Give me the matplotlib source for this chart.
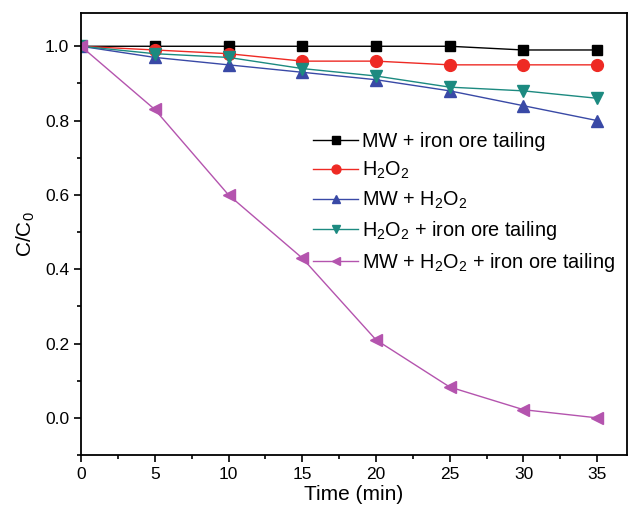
import matplotlib
matplotlib.use('Agg')
import matplotlib.pyplot as plt
from matplotlib.ticker import MultipleLocator

plt.rcParams['font.family'] = ['Liberation Sans', 'DejaVu Sans']
plt.rcParams['mathtext.default'] = 'regular'

# 데이터
time = [0, 5, 10, 15, 20, 25, 30, 35]
mw_tailing = [1.0, 1.0, 1.0, 1.0, 1.0, 1.0, 0.99, 0.99]
h2o2 = [1.0, 0.99, 0.98, 0.96, 0.96, 0.95, 0.95, 0.95]
mw_h2o2 = [1.0, 0.97, 0.95, 0.93, 0.91, 0.88, 0.84, 0.80]
h2o2_tailing = [1.0, 0.98, 0.97, 0.94, 0.92, 0.89, 0.88, 0.86]
mw_h2o2_tailing = [1.0, 0.83, 0.60, 0.43, 0.21, 0.083, 0.022, 0.0]

labels = ['MW + iron ore tailing', 'H$_2$O$_2$', 'MW + H$_2$O$_2$',
          'H$_2$O$_2$ + iron ore tailing', 'MW + H$_2$O$_2$ + iron ore tailing']

fig = plt.figure(figsize=(6.28, 5.13), dpi=100)
ax = fig.add_axes([0.129, 0.113, 0.869, 0.862])

ms = 7.5
ax.plot(time, mw_tailing, '-s', color='black', ms=ms, lw=1, label=labels[0])
ax.plot(time, h2o2, '-o', color='#EE2A24', ms=ms + 1, lw=1, label=labels[1])
ax.plot(time, mw_h2o2, '-^', color='#3949A6', ms=ms + 1, lw=1, label=labels[2])
ax.plot(time, h2o2_tailing, '-v', color='#1C8A80', ms=ms + 1, lw=1, label=labels[3])
ax.plot(time, mw_h2o2_tailing, '-<', color='#B454AE', ms=ms + 1, lw=1, label=labels[4])

ax.set_xlim(0, 37)
ax.set_ylim(-0.1, 1.09)
ax.xaxis.set_major_locator(MultipleLocator(5))
ax.xaxis.set_minor_locator(MultipleLocator(2.5))
ax.yaxis.set_minor_locator(MultipleLocator(0.1))
ax.set_yticks([0.0, 0.2, 0.4, 0.6, 0.8, 1.0])
ax.set_yticklabels(['0.0', '0.2', '0.4', '0.6', '0.8', '1.0'])
ax.tick_params(which='both', direction='out', labelsize=12.5, width=1.2)
ax.tick_params(which='major', length=5)
ax.tick_params(which='minor', length=3)
for s in ax.spines.values():
    s.set_linewidth(1.3)

ax.set_xlabel('Time (min)', fontsize=15, labelpad=2)
ax.set_ylabel('C/C$_0$', fontsize=15, labelpad=6)

ax.legend(loc='upper left', bbox_to_anchor=(0.41, 0.748), frameon=False,
          fontsize=14.3, handlelength=2.3, handletextpad=0.2, labelspacing=0.43,
          borderaxespad=0, markerscale=0.75)

fig.savefig('out.png', dpi=100)
